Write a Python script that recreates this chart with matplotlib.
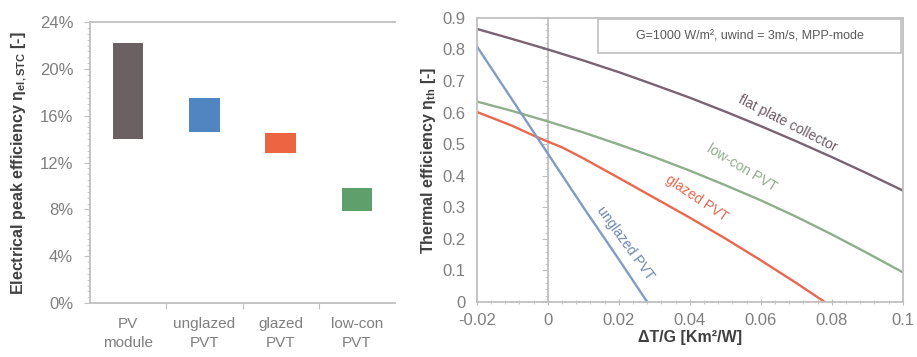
import matplotlib.pyplot as plt
import matplotlib.ticker as mticker
from matplotlib.patches import Rectangle

# left chart: electrical peak efficiency ranges (%)
categories = ["PV\nmodule", "unglazed\nPVT", "glazed\nPVT", "low-con\nPVT"]
eff_low = [14.0, 14.6, 12.8, 7.9]
eff_high = [22.2, 17.5, 14.5, 9.8]
bar_colors = ["#6b6163", "#4f86c2", "#ec6441", "#5e9f6c"]

# right chart: thermal efficiency curves
x_flat = [-0.02, -0.01, 0.0, 0.01, 0.02, 0.03, 0.04, 0.05, 0.06, 0.07, 0.08, 0.09, 0.1]
y_flat = [0.865, 0.833, 0.80, 0.765, 0.728, 0.688, 0.647, 0.603, 0.557, 0.509, 0.459, 0.407, 0.353]
x_lowcon = [-0.02, -0.01, 0.0, 0.01, 0.02, 0.03, 0.04, 0.05, 0.06, 0.07, 0.08, 0.09, 0.1]
y_lowcon = [0.635, 0.605, 0.572, 0.537, 0.499, 0.459, 0.416, 0.370, 0.322, 0.270, 0.214, 0.155, 0.094]
x_glazed = [-0.02, -0.01, -0.004, 0.0, 0.004, 0.01, 0.02, 0.03, 0.04, 0.05, 0.06, 0.07, 0.078]
y_glazed = [0.602, 0.558, 0.527, 0.508, 0.490, 0.455, 0.393, 0.330, 0.267, 0.201, 0.132, 0.060, 0.0]
x_unglazed = [-0.02, -0.01, 0.0, 0.01, 0.02, 0.028]
y_unglazed = [0.81, 0.64, 0.47, 0.30, 0.135, 0.0]

tick_col = "#7f7f7f"
lab_col = "#404040"
spine_col = "#bfbfbf"

plt.rcParams['font.family'] = ['Liberation Sans', 'DejaVu Sans']
plt.rcParams['mathtext.default'] = 'regular'

fig = plt.figure(figsize=(9.17, 3.57), dpi=100)

# ---- left ----
ax1 = fig.add_axes([0.098, 0.151, 0.333, 0.787])
xs = range(len(categories))
heights = [h - l for h, l in zip(eff_high, eff_low)]
ax1.bar(xs, heights, bottom=eff_low, width=0.4, color=bar_colors)
ax1.set_xlim(-0.5, 3.5)
ax1.set_ylim(0, 24)
ax1.yaxis.set_major_locator(mticker.MultipleLocator(4))
ax1.yaxis.set_minor_locator(mticker.MultipleLocator(0.5))
ax1.yaxis.set_major_formatter(mticker.FuncFormatter(lambda v, p: "%d%%" % v))
ax1.set_xticks([0.5, 1.5, 2.5])
ax1.set_xticklabels([])
ax1.set_xticks(list(xs), minor=True)
ax1.set_xticklabels(categories, minor=True, linespacing=1.5)
ax1.tick_params(axis='x', which='minor', length=0, pad=10, labelsize=11, labelcolor=tick_col)
ax1.tick_params(axis='x', which='major', length=4, color=spine_col)
ax1.tick_params(axis='y', which='major', length=4, color=spine_col, labelsize=12,
                labelcolor=tick_col, pad=8)
ax1.tick_params(axis='y', which='minor', length=2.5, color=spine_col)
for s in ['left', 'bottom', 'top']:
    ax1.spines[s].set_color(spine_col)
    ax1.spines[s].set_linewidth(1.3)
ax1.spines['right'].set_visible(False)
ax1.set_ylabel("Electrical peak efficiency η$_{el,STC}$ [-]", fontsize=11.5,
               fontweight='bold', color=lab_col, labelpad=8)

# ---- right ----
ax2 = fig.add_axes([0.520, 0.154, 0.4646, 0.796])
ax2.plot(x_flat, y_flat, color="#7a6472", lw=1.7)
ax2.plot(x_lowcon, y_lowcon, color="#8fae8c", lw=1.7)
ax2.plot(x_glazed, y_glazed, color="#e9684e", lw=1.7)
ax2.plot(x_unglazed, y_unglazed, color="#7f9cc6", lw=1.7)
ax2.set_xlim(-0.02, 0.1)
ax2.set_ylim(0, 0.9)
ax2.xaxis.set_major_locator(mticker.MultipleLocator(0.02))
ax2.xaxis.set_minor_locator(mticker.MultipleLocator(0.004))
ax2.yaxis.set_major_locator(mticker.MultipleLocator(0.1))
ax2.xaxis.set_major_formatter(mticker.FuncFormatter(lambda v, p: "%g" % round(v, 3)))
ax2.yaxis.set_major_formatter(mticker.FuncFormatter(lambda v, p: "%g" % round(v, 2)))
ax2.tick_params(axis='y', which='both', length=0, labelsize=12, labelcolor=tick_col, pad=8)
ax2.tick_params(axis='x', which='major', length=4, direction='inout', color=spine_col,
                labelsize=12, labelcolor=tick_col, pad=6)
ax2.tick_params(axis='x', which='minor', length=3, direction='inout', color=spine_col)
for s in ax2.spines.values():
    s.set_color(spine_col)
    s.set_linewidth(1.3)

# vertical axis crossing at x = 0
sec = ax2.secondary_yaxis(1 / 6)
sec.yaxis.set_major_locator(mticker.MultipleLocator(0.1))
sec.yaxis.set_minor_locator(mticker.MultipleLocator(0.02))
sec.tick_params(which='major', length=4, color=spine_col, labelleft=False)
sec.tick_params(which='minor', length=2.5, color=spine_col)
sec.spines['left'].set_color(spine_col)
sec.spines['left'].set_linewidth(1.3)

ax2.set_ylabel("Thermal efficiency η$_{th}$ [-]", fontsize=11.5, fontweight='bold',
               color=lab_col, labelpad=3)
ax2.set_xlabel("ΔT/G [Km²/W]", fontsize=11.5, fontweight='bold', color=lab_col, labelpad=1)

lbl = dict(ha='center', va='center', rotation_mode='anchor', fontsize=10)
ax2.text(0.0676, 0.567, "flat plate collector", rotation=-27, color="#6e5a66", **lbl)
ax2.text(0.0546, 0.425, "low-con PVT", rotation=-31, color="#8fae8c", **lbl)
ax2.text(0.042, 0.33, "glazed PVT", rotation=-34, color="#e9684e", **lbl)
ax2.text(0.0217, 0.187, "unglazed PVT", rotation=-54, color="#6d87b0", **lbl)

ax2.add_patch(Rectangle((0.284, 0.875), 0.712, 0.12, transform=ax2.transAxes,
                        facecolor='white', edgecolor=spine_col, lw=1.2, zorder=3))
ax2.text(0.64, 0.935, "G=1000 W/m², uwind = 3m/s, MPP-mode", transform=ax2.transAxes,
         ha='center', va='center', fontsize=9, color="#595959", zorder=4)

fig.savefig("out.png", dpi=100)
